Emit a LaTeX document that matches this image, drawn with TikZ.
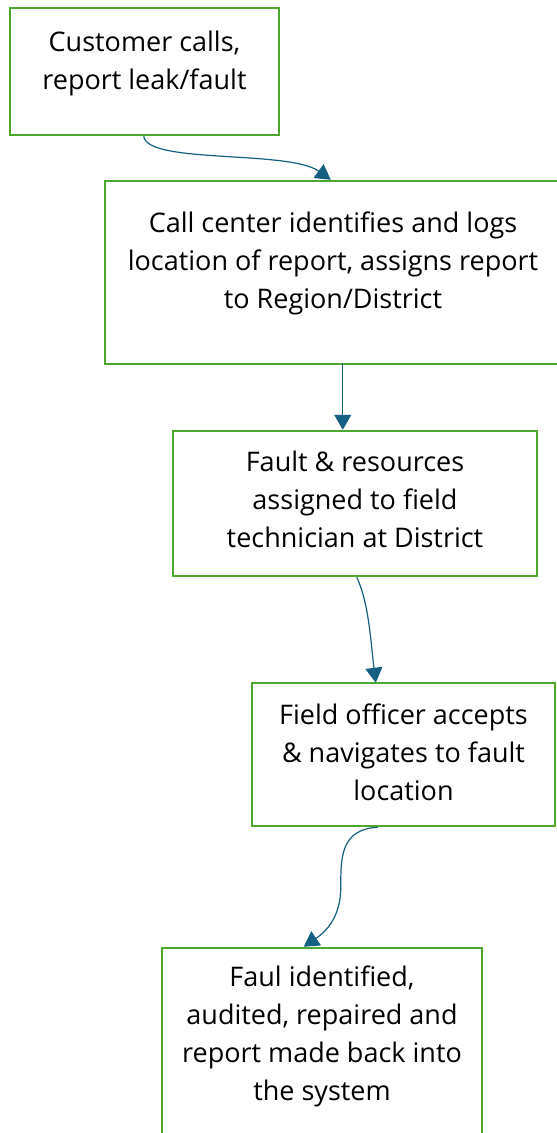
\documentclass[tikz,border=0pt]{standalone}
\usepackage{fontspec}
\setmainfont{Open Sans}
\usetikzlibrary{arrows.meta,calc}
\definecolor{boxgreen}{HTML}{4EA72E}
\definecolor{linkblue}{HTML}{156082}
\begin{document}
\begin{tikzpicture}[x=1pt,y=-1pt,
  box/.style={draw=boxgreen, line width=2.5pt, fill=white, rectangle, inner sep=0pt},
  txt/.style={align=center, font=\fontsize{27}{38}\selectfont, text=black},
  link/.style={draw=linkblue, line width=1.2pt, -{Triangle[length=15pt,width=17pt]}}]
\useasboundingbox (0,0) rectangle (557,1133);
\clip (0,0) rectangle (557,1133);
\fill[white] (0,0) rectangle (557,1133);
\node[box, minimum width=269pt, minimum height=127pt,
  label={[txt,yshift=8pt]center:Customer calls,\\report leak/fault}] (b1) at (144.5,71.5) {};
\node[box, minimum width=456pt, minimum height=183pt,
  label={[txt,yshift=9pt]center:Call center identifies and logs\\location of report, assigns report\\to Region/District}] (b2) at (333,272.5) {};
\node[box, minimum width=364pt, minimum height=145pt,
  label={[txt,yshift=4pt]center:Fault \& resources\\assigned to field\\technician at District}] (b3) at (355,503.5) {};
\node[box, minimum width=303pt, minimum height=143pt,
  label={[txt,yshift=2pt]center:Field officer accepts\\\& navigates to fault\\location}] (b4) at (403.5,754.5) {};
\node[box, minimum width=320pt, minimum height=190pt,
  label={[txt,yshift=7pt]center:Faul identified,\\audited, repaired and\\report made back into\\the system}] (b5) at (322,1043) {};
\draw[link] ($(b1.south west)+(135,0)$) .. controls ($(b1.south west)+(138,28)$) and ($(b2.north west)+(185,-30)$) .. ($(b2.north west)+(227,0)$);
\draw[link] ($(b2.south west)+(239,-2)$) -- ($(b3.north west)+(171,0)$);
\draw[link] ($(b3.south west)+(185,0)$) .. controls ($(b3.south west)+(197,25)$) and ($(b4.north west)+(120,-40)$) .. ($(b4.north west)+(125,1)$);
\draw[link] ($(b4.south west)+(127,0)$) .. controls ($(b4.south west)+(90,2)$) and ($(b4.south west)+(90,30)$) .. ($(b4.south west)+(90,60)$) .. controls ($(b4.south west)+(90,90)$) and ($(b5.north west)+(165,-15)$) .. ($(b5.north west)+(143,0)$);
\end{tikzpicture}
\end{document}
